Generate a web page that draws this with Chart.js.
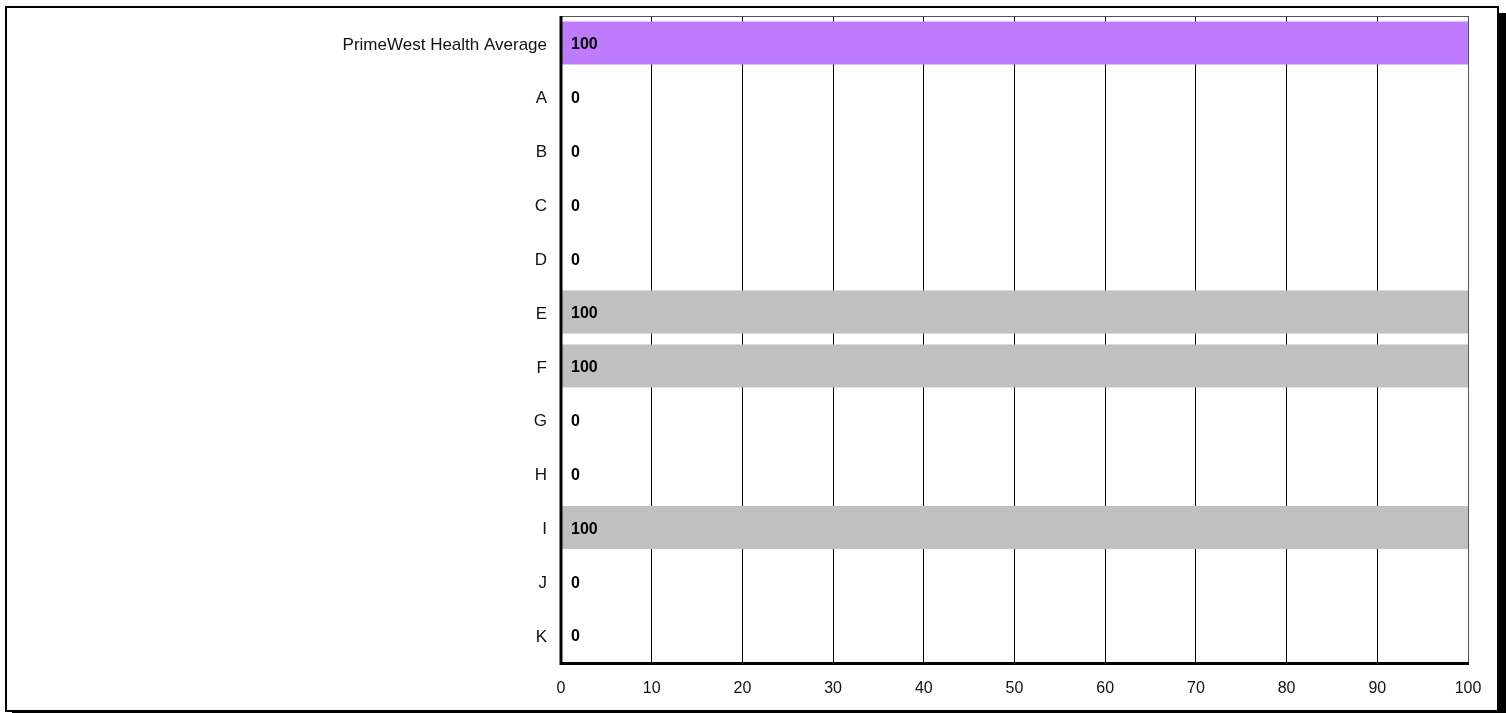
<!DOCTYPE html>
<html>
<head>
<meta charset="utf-8">
<script src="https://cdn.jsdelivr.net/npm/chart.js@4.4.1/dist/chart.umd.min.js"></script>
<style>
  html, body { margin: 0; padding: 0; background: #fff; }
  #wrap { position: relative; width: 1506px; height: 713px; overflow: hidden; }
  #frame {
    position: absolute; left: 5px; top: 6px; width: 1490px; height: 702px;
    border: 2px solid #000; box-shadow: 7px 7px 0 #000; background: #fff;
  }
  canvas { position: absolute; left: 0; top: 0; }
</style>
</head>
<body>
<div id="wrap">
  <div id="frame"></div>
  <canvas id="chart" width="1506" height="713"></canvas>
</div>
<script>
const categories = ["PrimeWest Health Average", "A", "B", "C", "D", "E", "F", "G", "H", "I", "J", "K"];
const scores = [100, 0, 0, 0, 0, 100, 100, 0, 0, 100, 0, 0];
const xTicks = [0, 10, 20, 30, 40, 50, 60, 70, 80, 90, 100];

const AVERAGE_COLOR = "#BF7BFF";
const UNIT_COLOR = "#C0C0C0";

// Axis frame and the value written at the base of each bar
const overlay = {
  id: "overlay",
  afterDatasetsDraw(chart) {
    const { ctx, chartArea: a, scales: { x, y } } = chart;
    ctx.save();
    // top and right edges of the plot
    ctx.strokeStyle = "#555";
    ctx.lineWidth = 1;
    ctx.beginPath();
    ctx.moveTo(a.left, a.top + 0.5);
    ctx.lineTo(a.right + 0.5, a.top + 0.5);
    ctx.lineTo(a.right + 0.5, a.bottom);
    ctx.stroke();
    // heavy zero line and category axis
    ctx.strokeStyle = "#000";
    ctx.lineWidth = 3;
    const x0 = x.getPixelForValue(0);
    ctx.beginPath();
    ctx.moveTo(x0, a.top);
    ctx.lineTo(x0, a.bottom + 1.5);
    ctx.lineTo(a.right + 1, a.bottom + 1.5);
    ctx.stroke();

    ctx.fillStyle = "#000";
    ctx.font = "bold 16px 'Liberation Sans', Arial, sans-serif";
    ctx.textAlign = "left";
    ctx.textBaseline = "middle";
    const meta = chart.getDatasetMeta(0);
    meta.data.forEach((bar, i) => {
      ctx.fillText(String(scores[i]), x0 + 10, bar.y + 2);
    });
    ctx.restore();
  }
};

new Chart(document.getElementById("chart"), {
  type: "bar",
  data: {
    labels: categories,
    datasets: [{
      data: scores,
      backgroundColor: categories.map((c, i) => i === 0 ? AVERAGE_COLOR : UNIT_COLOR),
      borderWidth: 0,
      barPercentage: 0.8,
      categoryPercentage: 1.0
    }]
  },
  options: {
    indexAxis: "y",
    responsive: false,
    animation: false,
    layout: { padding: { top: 16, right: 38, left: 0, bottom: 0 } },
    plugins: { legend: { display: false }, tooltip: { enabled: false } },
    scales: {
      x: {
        min: 0, max: 100,
        afterBuildTicks(scale) { scale.ticks = xTicks.map(v => ({ value: v })); },
        afterFit(scale) { scale.height = 51; },
        grid: { color: "#000", lineWidth: 1, drawTicks: false },
        border: { display: false },
        ticks: {
          padding: 17,
          color: "#111",
          font: { family: "'Liberation Sans', Arial, sans-serif", size: 16 }
        }
      },
      y: {
        afterFit(scale) {
          scale.width = 561;
          scale.paddingTop = 0;
          scale.paddingBottom = 0;
        },
        grid: { display: false, drawTicks: false },
        border: { display: false },
        ticks: {
          padding: 14,
          labelOffset: 2,
          color: "#111",
          font: { family: "'Liberation Sans', Arial, sans-serif", size: 17 }
        }
      }
    }
  },
  plugins: [overlay]
});
</script>
</body>
</html>
